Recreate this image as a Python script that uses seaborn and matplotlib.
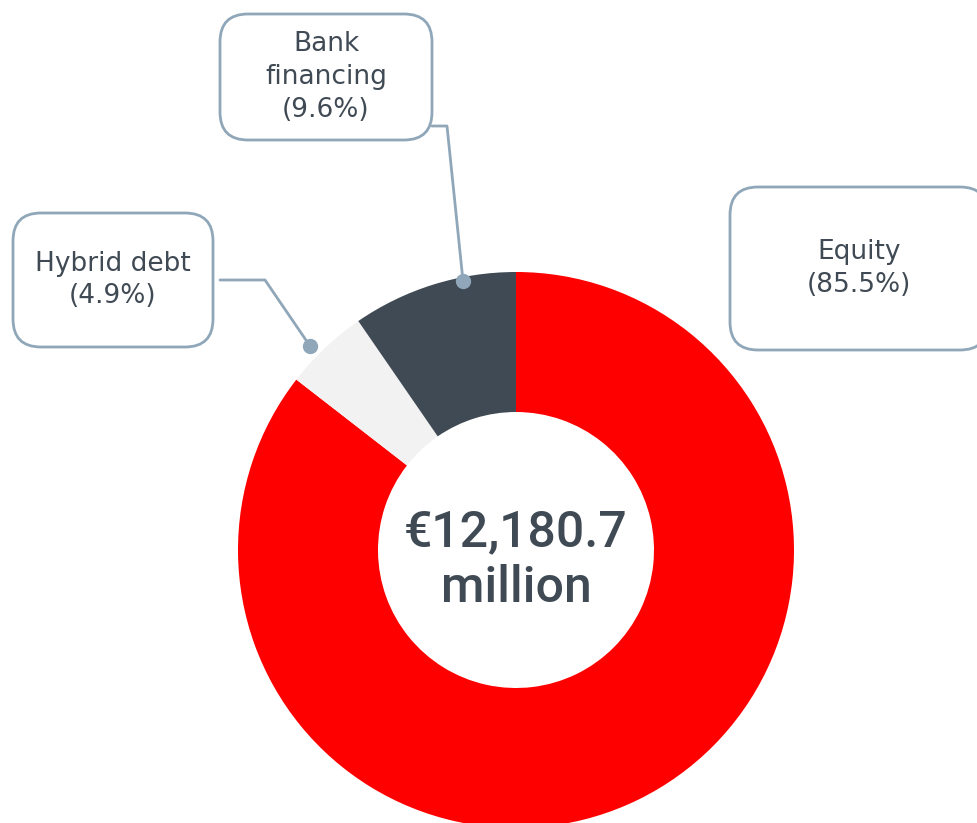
import matplotlib
matplotlib.use("Agg")
import matplotlib.pyplot as plt
import seaborn as sns
from matplotlib.patches import FancyBboxPatch

sns.set_theme(style="white")
plt.rcParams['font.family'] = ['DejaVu Sans']

# data
labels = ['Equity', 'Hybrid debt', 'Bank financing']
shares = [85.5, 4.9, 9.6]
colors = ['#ff0000', '#f2f2f2', '#404a54']
total_text = '€12,180.7\nmillion'

text_color = '#404a54'
edge_color = '#8fa7b9'

W, H = 978, 823
fig = plt.figure(figsize=(W / 100, H / 100), dpi=100)
ax = fig.add_axes([0, 0, 1, 1])
ax.set_xlim(0, W)
ax.set_ylim(0, H)
ax.axis('off')

# donut (pixel coords, y flipped)
cx, cy, r_out, r_in = 516, H - 550, 278, 138
ax.pie(shares, colors=colors, startangle=90, counterclock=False,
       center=(cx, cy), radius=r_out,
       wedgeprops=dict(width=r_out - r_in, linewidth=0))
ax.set_xlim(0, W)
ax.set_ylim(0, H)
ax.set_aspect('equal')

ax.text(cx, H - 560, total_text, ha='center', va='center', fontsize=36,
        color=text_color, linespacing=1.2, fontweight='medium',
        family='Roboto')


def callout(x0, y0, x1, y1, text):
    box = FancyBboxPatch((x0, H - y1), x1 - x0, y1 - y0,
                         boxstyle="round,pad=0,rounding_size=28",
                         fc='white', ec=edge_color, lw=2)
    ax.add_patch(box)
    ax.text((x0 + x1) / 2, H - (y0 + y1) / 2, text, ha='center', va='center',
            fontsize=19, color=text_color, linespacing=1.33)


callout(730, 187, 988, 350, f"{labels[0]}\n({shares[0]}%)")
callout(13, 213, 213, 347, f"{labels[1]}\n({shares[1]}%)")
callout(220, 14, 432, 140, "Bank\nfinancing\n" + f"({shares[2]}%)")

# leader lines
ax.plot([220, 265, 310], [H - 280, H - 280, H - 346], color=edge_color, lw=2)
ax.plot([310], [H - 346], 'o', color=edge_color, ms=10)
ax.plot([432, 447, 463], [H - 126, H - 126, H - 281], color=edge_color, lw=2)
ax.plot([463], [H - 281], 'o', color=edge_color, ms=10)

fig.savefig('out.png', dpi=100)
